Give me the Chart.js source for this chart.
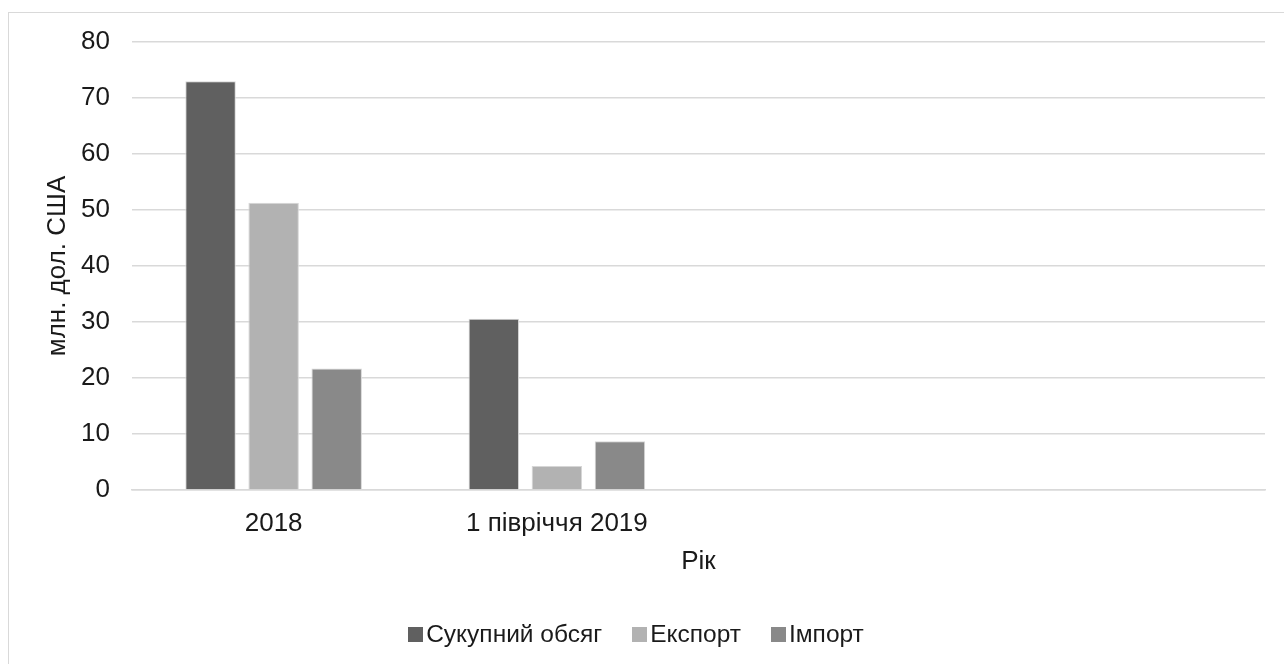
<!DOCTYPE html>
<html><head><meta charset="utf-8">
<script src="https://cdn.jsdelivr.net/npm/chart.js@4"></script>
<style>
html,body{margin:0;padding:0;background:#fff;overflow:hidden;width:1284px;height:664px}
#wrap{position:absolute;left:0;top:0;width:1284px;height:664px}
#frame{position:absolute;left:8px;top:12px;width:1300px;height:700px;border:1px solid #d9d9d9;pointer-events:none}
#legend{position:absolute;left:0;top:619px;width:1272px;height:30px;display:flex;justify-content:center;align-items:center;
  font-family:'Liberation Sans',Arial,sans-serif;font-size:24.5px;color:#1a1a1a;line-height:30px;white-space:nowrap}
#legend .item{display:flex;align-items:center;margin:0 15px}
#legend .box{width:15px;height:15px;margin-right:3px;flex:none}
</style></head><body>
<div id="wrap"><canvas id="c" width="1284" height="664"></canvas></div>
<div id="frame"></div>
<div id="legend"></div>
<script>
const categories = ['2018', '1 півріччя 2019', '', ''];
const seriesNames = ['Сукупний обсяг', 'Експорт', 'Імпорт'];
const totalVolume = [73.0, 30.6, null, null];
const exportVals = [51.3, 4.3, null, null];
const importVals = [21.7, 8.7, null, null];
const yTicks = [0, 10, 20, 30, 40, 50, 60, 70, 80];
const colors = ['#606060', '#b2b2b2', '#898989'];

const FONT = 'Liberation Sans, Arial, sans-serif';
const TXT = '#1a1a1a';
const FS = 26;

const chart = new Chart(document.getElementById('c'), {
  type: 'bar',
  data: {
    labels: categories,
    datasets: [totalVolume, exportVals, importVals].map((d, i) => ({
      label: seriesNames[i],
      data: d,
      backgroundColor: colors[i],
      borderColor: '#d6d6d6',
      borderWidth: 1,
      categoryPercentage: 0.668,
      barPercentage: 0.8
    }))
  },
  options: {
    responsive: false,
    animation: false,
    layout: { padding: { left: 0, right: 19, top: 42, bottom: 87 } },
    plugins: {
      legend: { display: false },
      tooltip: { enabled: false }
    },
    scales: {
      y: {
        min: 0, max: 80,
        afterFit: s => { s.width = 132; },
        afterBuildTicks: s => { s.ticks = yTicks.map(v => ({ value: v })); },
        ticks: { font: { family: FONT, size: FS }, color: TXT, padding: 22 },
        grid: { color: '#d9d9d9', lineWidth: 1.5, drawTicks: false },
        border: { display: false },
        title: { display: true, text: 'млн. дол. США', font: { family: FONT, size: FS }, color: TXT, padding: { top: 42, bottom: 0 } }
      },
      x: {
        afterFit: s => { s.height = 87; },
        ticks: { font: { family: FONT, size: FS }, color: TXT, padding: 18, maxRotation: 0, autoSkip: false },
        grid: { display: false, drawTicks: false },
        border: { display: true, color: '#d9d9d9', width: 1.5 },
        title: { display: true, text: 'Рік', font: { family: FONT, size: FS }, color: TXT, padding: { top: 0, bottom: 0 } }
      }
    }
  }
});

const leg = document.getElementById('legend');
chart.data.datasets.forEach(ds => {
  const it = document.createElement('div');
  it.className = 'item';
  const b = document.createElement('span');
  b.className = 'box';
  b.style.background = ds.backgroundColor;
  const t = document.createElement('span');
  t.textContent = ds.label;
  it.appendChild(b); it.appendChild(t);
  leg.appendChild(it);
});
</script>
</body></html>
